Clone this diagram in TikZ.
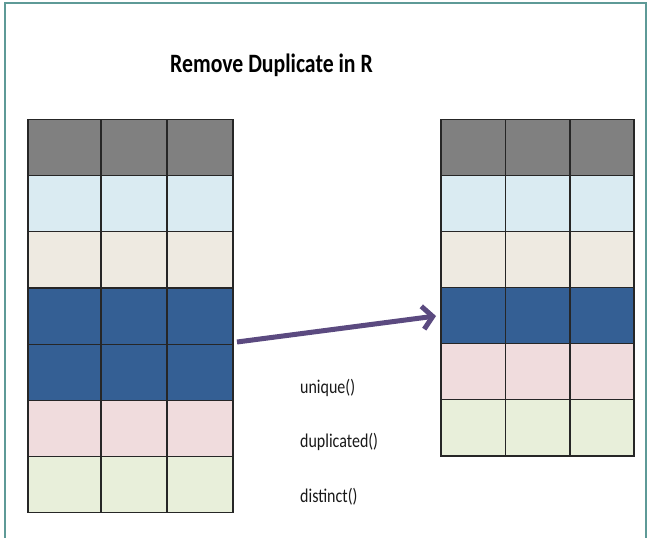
\documentclass[tikz,border=0pt]{standalone}
\usepackage{fontspec}
\setmainfont{Carlito}
\newfontfamily\condfont[FakeStretch=0.82]{Carlito}
\usetikzlibrary{arrows.meta}
\definecolor{frameteal}{HTML}{5E9A97}
\definecolor{hdrgray}{HTML}{808080}
\definecolor{ltblue}{HTML}{DAEBF2}
\definecolor{cream}{HTML}{EEEAE1}
\definecolor{dkblue}{HTML}{345F94}
\definecolor{ltpink}{HTML}{F0DCDD}
\definecolor{ltgreen}{HTML}{E8EFDA}
\definecolor{arrowpurple}{HTML}{5B4A80}
\tikzset{
  cell/.style={draw=black!85, line width=1.2pt, inner sep=0pt, outer sep=0pt, anchor=north west},
  lbl/.style={anchor=base west, inner sep=0pt, text=black!90, font=\condfont\fontsize{19.5}{22}\selectfont},
  ttl/.style={inner sep=0pt, font=\condfont\bfseries\fontsize{26.5}{30}\selectfont},
  bigarrow/.style={line width=5pt, draw=arrowpurple, -{Straight Barb[length=10pt, width=23pt, line width=5pt]}}
}
\begin{document}
\begin{tikzpicture}[x=1pt, y=-1pt]
\useasboundingbox (0,0) rectangle (648,538);
\fill[white] (0,0) rectangle (648,538);
\begin{scope}
\clip (0,0) rectangle (648,538);
\draw[frameteal, line width=2pt] (5,3) rectangle (646,560);
\end{scope}
\node[ttl] (title) at (271.5,65) {Remove Duplicate in R};
% left table
\foreach \r/\c in {0/hdrgray,1/ltblue,2/cream,3/dkblue,4/dkblue,5/ltpink,6/ltgreen}{
  \foreach \k/\x/\w in {0/28/73,1/101/66,2/167/66}{
    \node[cell, fill=\c, minimum width=\w pt, minimum height=56.2pt] (L-\r-\k) at (\x,{119.4+56.2*\r}) {};
  }
}
% right table
\foreach \r/\c in {0/hdrgray,1/ltblue,2/cream,3/dkblue,4/ltpink,5/ltgreen}{
  \foreach \k/\x/\w in {0/441/64.5,1/505.5/64.5,2/570/64}{
    \node[cell, fill=\c, minimum width=\w pt, minimum height=56.1pt] (R-\r-\k) at (\x,{119.3+56.1*\r}) {};
  }
}
\coordinate (astart) at (237,342);
\coordinate (aend) at (436,316);
\draw[bigarrow] (astart) -- (aend);
\node[lbl] (f1) at (300,393) {unique()};
\node[lbl] (f2) at (300,447) {duplicated()};
\node[lbl] (f3) at (300,502) {distinct()};
\end{tikzpicture}
\end{document}
